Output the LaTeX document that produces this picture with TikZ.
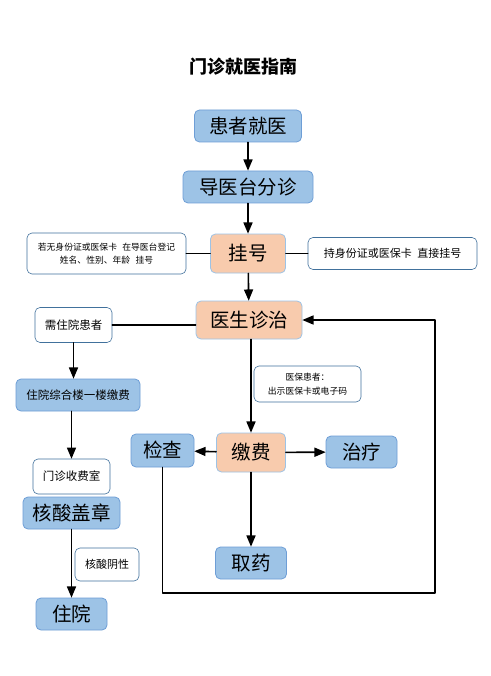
\documentclass[tikz,border=0pt]{standalone}
\usepackage{fontspec}
\usepackage{tikz}
\usetikzlibrary{arrows}
\newfontfamily\cjk{Noto Sans CJK SC}
\definecolor{aaccee}{rgb}{0.616,0.765,0.902}
\definecolor{ffccaa}{rgb}{0.973,0.796,0.678}
\definecolor{aabbdd}{rgb}{0.43,0.62,0.84}
\definecolor{qqaacc}{rgb}{0.255,0.443,0.612}
\tikzstyle{every node}=[font=\cjk]
\tikzstyle{bluebox}=[draw=aabbdd,fill=aaccee,rounded corners=5pt,line width=0.8pt,inner sep=0pt,font=\cjk\fontsize{19.5}{22}\selectfont]
\tikzstyle{orangebox}=[draw=aaccee,fill=ffccaa,rounded corners=5pt,line width=0.8pt,inner sep=0pt,font=\cjk\fontsize{19.5}{22}\selectfont]
\tikzstyle{notebox}=[draw=qqaacc,fill=white,rounded corners=5pt,line width=0.6pt,inner sep=0pt,align=center,font=\cjk\fontsize{11.5}{14}\selectfont]
\tikzstyle{smallnote}=[notebox,font=\cjk\fontsize{8.8}{13.5}\selectfont]
\begin{document}
\begin{tikzpicture}[line cap=round,line join=round,>=triangle 45,x=1pt,y=-1pt]
\useasboundingbox[fill=white] (0,0) rectangle (490,676);
\node (title) at (243,67) {\fontsize{18}{20}\selectfont\bfseries 门诊就医指南};
% main column
\node [bluebox,minimum width=107pt,minimum height=32pt] (huanzhe) at (248,126) {患者就医};
\node [bluebox,minimum width=130pt,minimum height=32pt] (daoyi) at (248,187) {导医台分诊};
\node [orangebox,minimum width=75pt,minimum height=39pt] (guahao) at (248,253.5) {挂号};
\node [smallnote,minimum width=159pt,minimum height=41pt] (noteL) at (106.5,253.5) {若无身份证或医保卡\hspace{0.6em}在导医台登记\\姓名、性别、年龄\hspace{0.6em}挂号};
\node [notebox,font=\cjk\fontsize{11}{13}\selectfont,minimum width=169pt,minimum height=32pt] (noteR) at (392.5,253.5) {持身份证或医保卡\hspace{0.5em}直接挂号};
\node [orangebox,minimum width=106pt,minimum height=38pt] (yisheng) at (249,320) {医生诊治};
\node [smallnote,minimum width=107pt,minimum height=36pt] (noteYB) at (307.5,384) {医保患者：\\出示医保卡或电子码};
\node [orangebox,minimum width=69pt,minimum height=39pt] (jiaofei) at (251,452.5) {缴费};
\node [bluebox,minimum width=63pt,minimum height=33pt] (jiancha) at (162.5,450.5) {检查};
\node [bluebox,minimum width=71pt,minimum height=32pt] (zhiliao) at (361.5,452) {治疗};
\node [bluebox,minimum width=71pt,minimum height=32pt] (quyao) at (251,563) {取药};
% left column
\node [notebox,minimum width=77pt,minimum height=35pt] (zhuyuanhz) at (73.5,325) {需住院患者};
\node [bluebox,font=\cjk\fontsize{11.5}{14}\selectfont,minimum width=124pt,minimum height=32pt] (jiaofeiZ) at (78,395) {住院综合楼一楼缴费};
\node [notebox,minimum width=77pt,minimum height=35pt] (menzhen) at (71.5,476.5) {门诊收费室};
\node [bluebox,minimum width=97pt,minimum height=32pt] (hesuan) at (71.5,513) {核酸盖章};
\node [notebox,font=\cjk\fontsize{11}{13}\selectfont,minimum width=64pt,minimum height=33pt] (yinxing) at (107,564.5) {核酸阴性};
\node [bluebox,minimum width=71pt,minimum height=32pt] (zhuyuan) at (71.5,614) {住院};
\coordinate (back) at (435,593);
% connectors
\draw [->,line width=1.6pt] (huanzhe) -- (daoyi);
\draw [->,line width=1.6pt] (daoyi) -- (guahao);
\draw [line width=1.6pt] (noteL) -- (guahao);
\draw [line width=1.6pt] (guahao) -- (noteR);
\draw [->,line width=1.6pt] (guahao) -- (yisheng);
\draw [line width=1.6pt] (zhuyuanhz.east) -- (zhuyuanhz.east -| yisheng.west);
\draw [->,line width=1.6pt] (zhuyuanhz.south) -- (zhuyuanhz.south |- jiaofeiZ.north);
\draw [->,line width=1.6pt] (jiaofeiZ.south -| menzhen.north) -- (menzhen.north);
\draw [->,line width=1.6pt] (jiaofei.north |- yisheng.south) -- (jiaofei.north);
\draw [->,line width=1.6pt] (jiaofei) -- (jiancha);
\draw [->,line width=1.6pt] (jiaofei) -- (zhiliao);
\draw [->,line width=1.6pt] (jiaofei) -- (quyao);
\draw [->,line width=1.6pt] (hesuan) -- (zhuyuan);
\draw [->,line width=1.6pt] (jiancha.south) |- (back) |- (yisheng.east);
\end{tikzpicture}
\end{document}
